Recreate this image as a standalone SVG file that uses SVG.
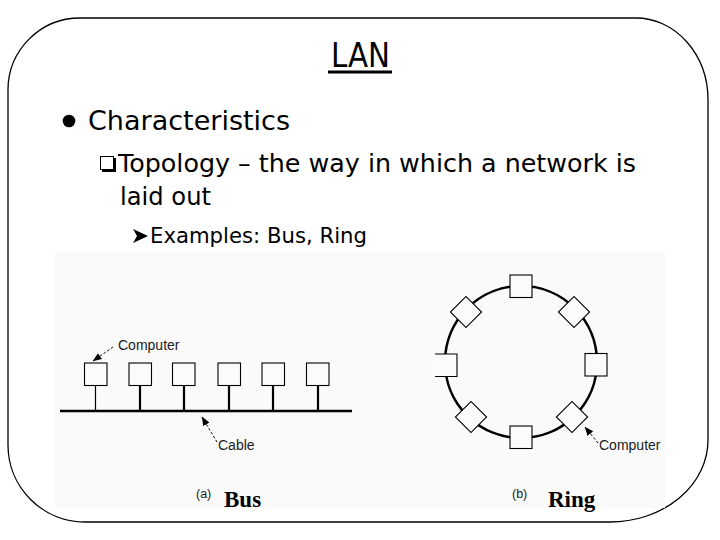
<svg xmlns="http://www.w3.org/2000/svg" width="720" height="540" viewBox="0 0 720 540">
<style>
.body{font-family:"DejaVu Sans","Liberation Sans",sans-serif;fill:#000}
.lbl{font-family:"Liberation Sans",Arial,sans-serif;font-size:14px;fill:#1a1a1a}
.cap{font-family:"Liberation Sans",Arial,sans-serif;font-size:12.5px;fill:#1a1a1a}
.ttl{font-family:"Liberation Serif","Times New Roman",serif;font-size:23px;font-weight:bold;fill:#000}
.box{fill:#fbfbfb;stroke:#000;stroke-width:1.1}
.stem{stroke:#000;stroke-width:2.2}
.ptr{stroke:#000;stroke-width:1;stroke-dasharray:2.5 2;fill:none}
</style>
<defs>
<marker id="ah" viewBox="0 0 10 10" refX="9.5" refY="5" markerWidth="9" markerHeight="9" markerUnits="userSpaceOnUse" orient="auto">
<path d="M0,1 L10,5 L0,9 Z" fill="#000"/>
</marker>
</defs>
<rect width="720" height="540" fill="#fff"/>
<path id="frame" d="M80,18 H636 A72,82 0 0 1 708,100 V440 A98,82 0 0 1 610,522 H85 A77,77 0 0 1 8,445 V90 A72,72 0 0 1 80,18 Z" fill="none" stroke="#000" stroke-width="1.3"/>
<g id="title">
<text class="body" x="331" y="67" font-size="33" textLength="59" lengthAdjust="spacingAndGlyphs">LAN</text>
<rect x="328" y="70.5" width="64" height="3" fill="#000"/>
</g>
<g id="bullets">
<circle cx="69" cy="121" r="6.3" fill="#000"/>
<text class="body" x="88" y="130" font-size="27" textLength="202" lengthAdjust="spacingAndGlyphs">Characteristics</text>
<rect x="100.5" y="156.5" width="13" height="13" fill="none" stroke="#000" stroke-width="1"/>
<polyline points="102,171 115,171 115,158" fill="none" stroke="#000" stroke-width="2"/>
<text class="body" x="118" y="172" font-size="25" textLength="518" lengthAdjust="spacingAndGlyphs">Topology – the way in which a network is</text>
<text class="body" x="120" y="205" font-size="25" textLength="91" lengthAdjust="spacingAndGlyphs">laid out</text>
<polygon points="133,229 148,236 133,243 137,236" fill="#000"/>
<text class="body" x="150" y="243" font-size="22" textLength="217" lengthAdjust="spacingAndGlyphs">Examples: Bus, Ring</text>
</g>
<rect id="figure-bg" x="55" y="252" width="610" height="256" fill="#fafafa"/>
<g id="connectors">
<line x1="60" y1="411" x2="352" y2="411" stroke="#000" stroke-width="2.4"/>
<line x1="95.5" y1="385" x2="95.5" y2="411" stroke="#000" stroke-width="1.2"/>
<line class="stem" x1="140" y1="385" x2="140" y2="411"/>
<line class="stem" x1="184" y1="385" x2="184" y2="411"/>
<line class="stem" x1="229" y1="385" x2="229" y2="411"/>
<line class="stem" x1="273" y1="385" x2="273" y2="411"/>
<line class="stem" x1="318" y1="385" x2="318" y2="411"/>
<circle cx="521" cy="362" r="76" fill="none" stroke="#000" stroke-width="2.6"/>
<line class="ptr" x1="113" y1="347" x2="93" y2="361" marker-end="url(#ah)"/>
<line class="ptr" x1="217" y1="442" x2="202" y2="417" marker-end="url(#ah)"/>
<line class="ptr" x1="598" y1="443" x2="585" y2="427" marker-end="url(#ah)"/>
</g>
<g id="bus-computer-1"><rect class="box" x="84.5" y="363" width="22.5" height="22.5"/></g>
<g id="bus-computer-2"><rect class="box" x="129" y="363" width="22.5" height="22.5"/></g>
<g id="bus-computer-3"><rect class="box" x="172.5" y="363" width="22.5" height="22.5"/></g>
<g id="bus-computer-4"><rect class="box" x="218" y="363" width="22.5" height="22.5"/></g>
<g id="bus-computer-5"><rect class="box" x="262" y="363" width="22.5" height="22.5"/></g>
<g id="bus-computer-6"><rect class="box" x="306.5" y="363" width="22.5" height="22.5"/></g>
<g id="ring-computer-top"><rect class="box" x="510" y="275" width="22" height="22.5"/></g>
<g id="ring-computer-bottom"><rect class="box" x="510" y="426" width="22" height="22.5"/></g>
<g id="ring-computer-left"><rect x="435" y="354" width="22" height="22.5" fill="#fbfbfb"/><polyline points="435,354 457,354 457,376.5 435,376.5" fill="none" stroke="#000" stroke-width="1.1"/></g>
<g id="ring-computer-right"><rect class="box" x="585" y="353.5" width="22" height="22.5"/></g>
<g id="ring-computer-ul"><rect class="box" x="455" y="301" width="22" height="22" transform="rotate(45 466 312)"/></g>
<g id="ring-computer-ur"><rect class="box" x="563" y="301" width="22" height="22" transform="rotate(45 574 312)"/></g>
<g id="ring-computer-ll"><rect class="box" x="460" y="406" width="22" height="22" transform="rotate(45 471 417)"/></g>
<g id="ring-computer-lr"><rect class="box" x="561" y="406" width="22" height="22" transform="rotate(45 572 417)"/></g>
<g id="labels">
<text class="lbl" x="118" y="350">Computer</text>
<text class="lbl" x="218" y="450">Cable</text>
<text class="lbl" x="599" y="450">Computer</text>
<text class="cap" x="196" y="498">(a)</text>
<text class="ttl" x="224" y="507">Bus</text>
<text class="cap" x="512" y="498">(b)</text>
<text class="ttl" x="548" y="507">Ring</text>
</g>
</svg>
